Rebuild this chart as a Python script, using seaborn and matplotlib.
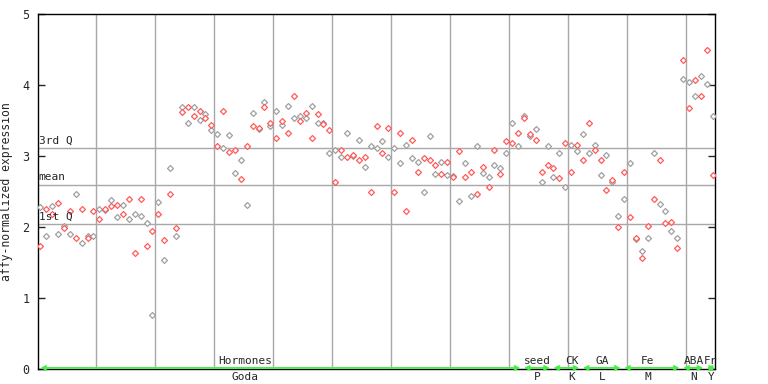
import pandas as pd
import seaborn as sns
import matplotlib.pyplot as plt

# expression values per sample, two replicates
rep1 = [2.28, 1.87, 2.29, 1.90, 2.01, 1.90, 2.46, 1.77, 1.87, 1.88,
        2.26, 2.24, 2.38, 2.14, 2.31, 2.11, 2.18, 2.15, 2.05, 0.76,
        2.35, 1.53, 2.83, 1.88, 3.69, 3.46, 3.69, 3.51, 3.59, 3.36,
        3.31, 3.11, 3.29, 2.76, 2.95, 2.31, 3.60, 3.38, 3.76, 3.42,
        3.63, 3.43, 3.70, 3.54, 3.57, 3.54, 3.70, 3.46, 3.47, 3.04,
        3.09, 2.98, 3.32, 3.00, 3.23, 2.85, 3.14, 3.11, 3.21, 2.99,
        3.11, 2.90, 3.15, 2.97, 2.92, 2.49, 3.28, 2.74, 2.92, 2.73,
        2.72, 2.36, 2.90, 2.43, 3.14, 2.76, 2.70, 2.87, 2.83, 3.04,
        3.46, 3.14, 3.57, 3.28, 3.38, 2.63, 3.14, 2.71, 3.04, 2.57,
        3.15, 3.07, 3.31, 3.04, 3.16, 2.73, 3.01, 2.64, 2.15, 2.40,
        2.90, 1.83, 1.66, 1.84, 3.04, 2.32, 2.22, 1.95, 1.84, 4.09,
        4.04, 3.85, 4.12, 4.01, 3.56]
rep2 = [1.73, 2.26, 2.18, 2.34, 1.98, 2.22, 1.84, 2.26, 1.85, 2.23,
        2.11, 2.25, 2.29, 2.31, 2.19, 2.39, 1.64, 2.39, 1.73, 1.94,
        2.18, 1.81, 2.47, 1.98, 3.62, 3.69, 3.57, 3.63, 3.54, 3.43,
        3.14, 3.63, 3.05, 3.08, 2.67, 3.14, 3.42, 3.40, 3.69, 3.47,
        3.26, 3.50, 3.32, 3.85, 3.49, 3.60, 3.25, 3.59, 3.45, 3.36,
        2.64, 3.09, 2.98, 3.02, 2.94, 2.99, 2.49, 3.42, 3.04, 3.39,
        2.50, 3.32, 2.22, 3.22, 2.77, 2.97, 2.94, 2.87, 2.74, 2.91,
        2.70, 3.07, 2.70, 2.77, 2.47, 2.84, 2.56, 3.09, 2.74, 3.21,
        3.18, 3.32, 3.53, 3.31, 3.22, 2.78, 2.88, 2.83, 2.69, 3.19,
        2.77, 3.16, 2.95, 3.47, 3.09, 2.95, 2.52, 2.66, 2.00, 2.77,
        2.14, 1.85, 1.57, 2.02, 2.40, 2.95, 2.05, 2.07, 1.71, 4.35,
        3.67, 4.07, 3.84, 4.50, 2.73]

groups = ["Hormones", "seed", "CK", "GA", "Fe", "ABA", "Fr"]
sub_labels = ["Goda", "P", "K", "L", "M", "N", "Y"]
group_start = [0, 82, 87, 92, 99, 109, 113]
group_end = [81, 86, 91, 98, 108, 112, 114]
label_x = [34.7, 84.2, 90.1, 95.2, 103.0, 110.8, 113.7]

q1, mean_val, q3 = 2.04, 2.59, 3.11

n = len(rep1)
df = pd.DataFrame({
    "sample": list(range(n)) * 2,
    "expr": rep1 + rep2,
    "rep": ["r1"] * n + ["r2"] * n,
})

sns.set_style("white")
plt.rcParams["font.family"] = ["DejaVu Sans Mono"]

fig = plt.figure(figsize=(7.68, 3.84), dpi=100)
ax = fig.add_axes([38 / 768, 15 / 384, 677 / 768, 355 / 384])

# grid lines every 10 samples and quartile lines
for k in range(11):
    ax.axvline(9.5 + 10 * k, color="#a8a8a8", lw=1, zorder=1)
for v in [q1, mean_val, q3]:
    ax.axhline(v, color="#a8a8a8", lw=1, zorder=1)

colors = {"r1": "#a0a0a0", "r2": "#ff5a5a"}
for r, c in colors.items():
    sub = df[df["rep"] == r]
    sns.scatterplot(data=sub, x="sample", y="expr", ax=ax, marker="D", s=9,
                    facecolor="white", edgecolor=c, linewidth=0.9,
                    zorder=3, legend=False)

ax.set_xlim(-0.4, 114.4)
ax.set_ylim(0, 5)
ax.set_yticks(range(6))
ax.set_xticks([])
ax.set_xlabel("")
ax.set_ylabel("affy-normalized expression", fontsize=8.3, labelpad=7)
ax.tick_params(axis="y", direction="in", length=5, width=1, left=True,
               right=True, labelsize=8.5, pad=6)
for s in ax.spines.values():
    s.set_color("black")
    s.set_linewidth(1)

ax.text(-0.3, q3 + 0.03, "3rd Q", fontsize=8, va="bottom", ha="left")
ax.text(-0.3, mean_val + 0.05, "mean", fontsize=8, va="bottom", ha="left")
ax.text(-0.3, q1 + 0.03, "1st Q", fontsize=8, va="bottom", ha="left")

# category arrows along the bottom
for g, sl, a, b, lx in zip(groups, sub_labels, group_start, group_end, label_x):
    ax.annotate("", xy=(b + 0.4, 0.015), xytext=(a, 0.015),
                arrowprops=dict(arrowstyle="<->", color="#44ee44", lw=1.3,
                                shrinkA=0, shrinkB=0, mutation_scale=7),
                annotation_clip=False, zorder=4)
    ax.annotate(g, xy=(lx, 0), xycoords=("data", "axes fraction"),
                xytext=(0, 2), textcoords="offset points",
                ha="center", va="bottom", fontsize=8)
    ax.annotate(sl, xy=(lx, 0), xycoords=("data", "axes fraction"),
                xytext=(0, -2), textcoords="offset points",
                ha="center", va="top", fontsize=8)

fig.savefig("out.png", dpi=100)
